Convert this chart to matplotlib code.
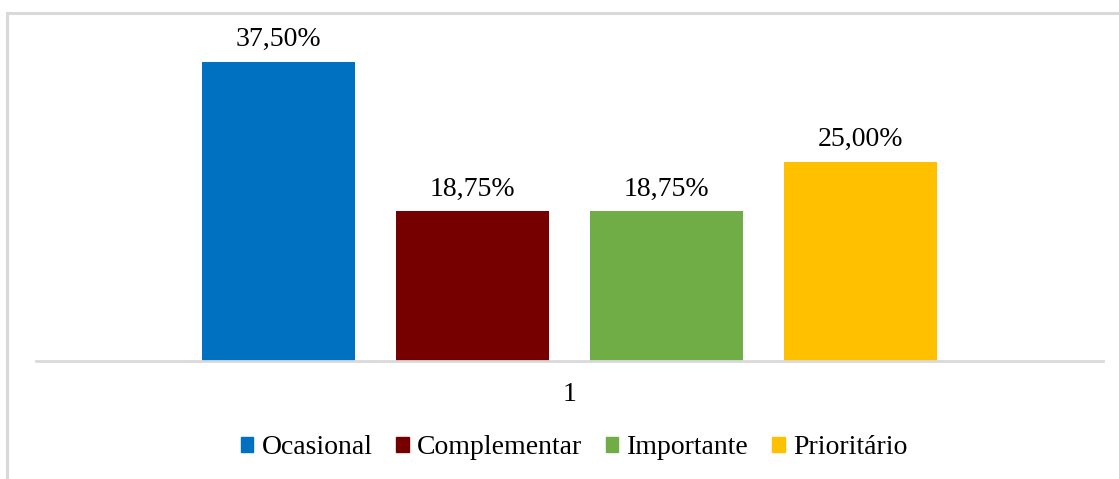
import matplotlib.pyplot as plt
from matplotlib.patches import Rectangle, Patch

# category shares (%)
categories = ["Ocasional", "Complementar", "Importante", "Prioritário"]
values = [37.50, 18.75, 18.75, 25.00]
colors = ["#0070C0", "#760000", "#70AD47", "#FFC000"]
group_label = "1"

plt.rcParams['font.family'] = ['Liberation Serif', 'DejaVu Serif']

W, H = 1119, 479
fig = plt.figure(figsize=(W / 100, H / 100), dpi=100)

# light frame around the chart area (runs off the right/bottom edge)
fig.patches.append(Rectangle((7 / W, -0.05), 1.2, 1 - 13 / H + 0.05,
                             transform=fig.transFigure, fill=False,
                             edgecolor="#D9D9D9", linewidth=2.2))

ax = fig.add_axes([36 / W, 1 - 361 / H, (1103 - 36) / W, (361 - 42) / H])

step = 0.1818
width = 0.1434
for i, (name, v, c) in enumerate(zip(categories, values, colors)):
    x = (i - 1.5) * step
    ax.bar(x, v, width=width, color=c, label=name)
    ax.text(x, v + 1.2, f"{v:.2f}%".replace(".", ","), ha="center",
            va="bottom", fontsize=20)

ax.set_xlim(-0.5, 0.5)
ax.set_ylim(0, 40)
ax.set_xticks([0])
ax.set_xticklabels([group_label], fontsize=20)
ax.tick_params(axis="x", length=0, pad=15)
ax.set_yticks([])
for s in ["top", "right", "left"]:
    ax.spines[s].set_visible(False)
ax.spines["bottom"].set_color("#D9D9D9")
ax.spines["bottom"].set_linewidth(2)

handles = [Patch(color=c) for c in colors]
fig.legend(handles, categories, loc="center", bbox_to_anchor=(574 / W, 1 - 448 / H),
           ncol=4, frameon=False, fontsize=20, handlelength=0.45,
           handleheight=0.45, handletextpad=0.3, columnspacing=0.85)

fig.savefig("out.png", dpi=100, facecolor="white")
